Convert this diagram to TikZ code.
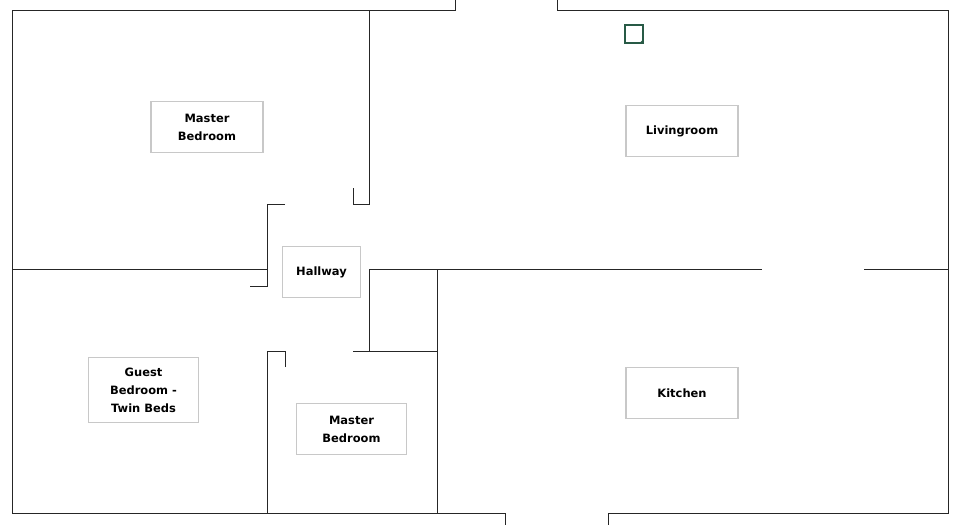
\documentclass[tikz,border=0pt]{standalone}
\usepackage{fontspec}
\setmainfont{DejaVu Sans}
\definecolor{tagline}{RGB}{200,200,200}
\definecolor{plantgreen}{RGB}{40,90,70}
\tikzset{
  wall/.style={line width=0.75pt, black!85},
  room/.style={draw=tagline, line width=0.8pt, fill=white, align=center,
    font=\bfseries\fontsize{8.6}{13.5}\selectfont, inner sep=0pt}
}
\begin{document}
\begin{tikzpicture}[x=0.75pt,y=-0.75pt]
        \useasboundingbox (0,0) rectangle (960,525);
        % outer walls
        \draw[wall] (455,0)--(455,10)--(12,10)--(12,513)--(505,513)--(505,525);
        \draw[wall] (557,0)--(557,10)--(948,10)--(948,513)--(608,513)--(608,525);
        % master bedroom
        \draw[wall] (369,10)--(369,204)--(353,204)--(353,188);
        \draw[wall] (12,269)--(267,269);
        \draw[wall] (285,204)--(267,204)--(267,286)--(250,286);
        % lower rooms
        \draw[wall] (285,367)--(285,351)--(267,351)--(267,513);
        \draw[wall] (369,269)--(762,269);
        \draw[wall] (864,269)--(948,269);
        \draw[wall] (369,269)--(369,351);
        \draw[wall] (353,351)--(437,351);
        \draw[wall] (437,269)--(437,513);
        % plant
        \draw[plantgreen, line width=0.8pt] (625,25) rectangle (643,43);
        \fill[plantgreen] (642,42) circle (1.3);
        % labels
        \node[room, minimum width=84pt, minimum height=38pt] (mbed) at (207,127) {Master\\Bedroom};
        \node[room, minimum width=84pt, minimum height=38pt] (living) at (682,131) {Livingroom};
        \node[room, minimum width=59pt, minimum height=38pt] (hall) at (321.5,272) {Hallway};
        \node[room, minimum width=83pt, minimum height=49pt] (guest) at (143.5,390) {Guest\\Bedroom -\\Twin Beds};
        \node[room, minimum width=83pt, minimum height=38pt] (mbed2) at (351.5,429) {Master\\Bedroom};
        \node[room, minimum width=84pt, minimum height=38pt] (kitchen) at (682,393) {Kitchen};
\end{tikzpicture}
\end{document}
